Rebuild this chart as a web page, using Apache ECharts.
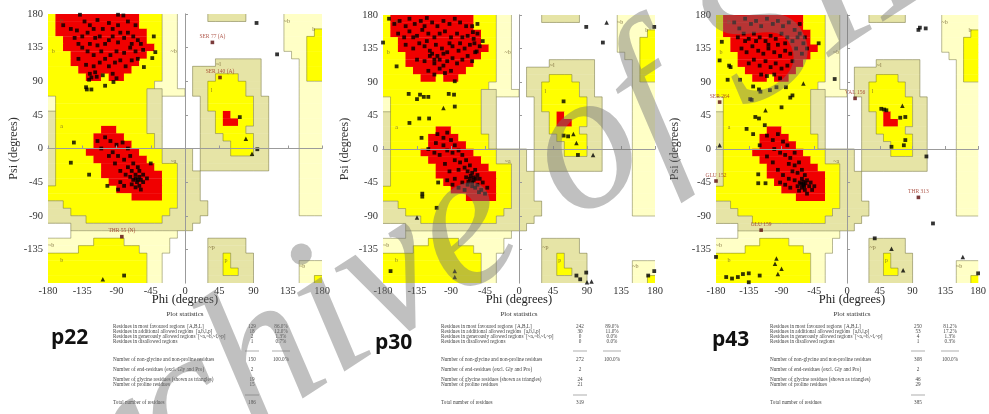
<!DOCTYPE html>
<html><head><meta charset="utf-8">
<script src="https://cdn.jsdelivr.net/npm/echarts@6.0.0/dist/echarts.min.js"></script>
<style>html,body{margin:0;padding:0;background:#fff}#c{width:989px;height:414px}</style>
</head><body><div id="c"></div>
<script>
// ---------- DATA ----------
const AXIS_TICKS = [-180,-135,-90,-45,0,45,90,135,180];
// Ramachandran region map, 10-degree cells; rows psi 180 -> -180, columns phi -180 -> 180
// R core, Y allowed, K generous, P generous (pale), . disallowed
const REGION_ROWS = [
"YRRRRRRRRRRRYYYPP....KKKKK.....PPPPP",
"YRRRRRRRRRRRYYYPP..............PPPPP",
"YRRRRRRRRRRRRYYPP..............PPPPY",
"YYRRRRRRRRRRRYYPP..............PPPYY",
"YYRRRRRRRRRRRRYPP..............PPPYY",
"YYYRRRRRRRRRRYYPP...............PPYY",
"YYYRRRRRRRRRYYYPP.....KKKKKK.....PYY",
"YYYYRRRRRRRYYYYPP..KKKKKKKKK.....PYY",
"YYYYYRRYRRYYYYYPP..KKKYYYKKK.....PYY",
"YYYYYYYYYYYYYYPPP..KKYYYYYKK.....PPP",
"YYYYYYYYYYYYYKKPPP.KKYYYYYKK.....PPP",
"PYYYYYYYYYYYYKK.....KYYYYYYKK....PPP",
"PYYYYYYYYYYYYKK.....KYYYYYYKK....PPP",
"KYYYYYYYYYYYYKK.....KKYRYYYKK....PPP",
"KYYYYYYYYYYYYKK.....KKYRRYYKK....PPP",
"KYYYYYYRRYYYYKK.....KKYYYYKKK....PPP",
"KYYYYYRRRRYYYYK.....KKKYYYYKK....PPP",
"KYYYYYRRRRRYYYK.....KKKKYYYKK....PPP",
"KYYYYRRRRRRRYYYKKKK.KKKKYYYKK....PPP",
"KYYYYYRRRRRRRYYKKKK.KKKKKKKKK....PPP",
"KYYYYYYRRRRRRRYYYKK.KKKKKKKKK....PPP",
"KYYYYYYRRRRRRRRYYKKK.............PPP",
"KYYYYYYYRRRRRRRYYKKK.............PPP",
"YYYYYYYYYRRRRRRYYKKK.............PPP",
"YYYYYYYYYYYRRRRYYKKK.............PPP",
"KKYYYYYYYYYYYYYYYKKKK............PPP",
"KKKYYYYYYYYYYYYYKKKKK............PPP",
"KKKKKYYYYYYYYYYKKKKK................",
"...KKKKKKKKKKKKKKKK.................",
"...PPPPPPPPPPPPPP...................",
"PPPPPPYYYYPPPPPP.....KKKKK..........",
"PPPPYYYYYYYYPPPP.....KKKKK..........",
"YYYYYYYYYYYYYPP......KKYKKK.........",
"YYYYYYYYYYYYYPP......KKYKKK......PPP",
"YYYYYYYYYYYYYPP......KKYYKK......PPP",
"YYYYYYYYYYYYYPP......KKKKKK......PPY"
];
const REGION_LABELS = [
 ['B',-162,170],['b',-173,130],['a',-162,29],['~b',-15,130],['~a',-15,-17],
 ['~l',44,112],['l',35,78],['~p',35,-132],['p',54,-150],['~b',-176,-130],
 ['b',-162,-150],['~b',154,-158],['~b',134,170],['b',169,159]
];

const P22_RES = [
[-160,165],[-150,160],[-142,158],[-135,150],[-128,155],[-120,160],[-118,148],[-112,150],[-105,140],[-100,145],
[-95,150],[-88,142],[-80,148],[-75,155],[-68,150],[-62,145],[-58,140],[-55,132],[-65,130],[-72,135],
[-80,128],[-90,130],[-98,125],[-105,120],[-110,130],[-120,125],[-128,130],[-135,135],[-140,120],[-130,112],
[-120,110],[-112,115],[-100,110],[-92,115],[-85,118],[-78,110],[-70,118],[-62,120],[-125,100],[-118,102],
[-108,98],[-95,100],[-132,170],[-115,172],[-100,168],[-88,165],[-75,170],[-65,165],[-140,140],[-125,140],
[-115,138],[-108,160],[-95,160],[-85,155],[-70,140],[-125,165],[-145,148],
[-41,150],[-39,129],[-43,121],[-54,109],[-88,179],[-81,178],[-138,179],[-129,79],[-123,79],[-130,82],
[-126,92],[-123,95],[-105,84],[-94,89],[-90,94],[-116,96],
[-105,15],[-98,10],[-90,5],[-82,8],[-75,0],[-95,-5],[-88,-10],[-80,-15],[-72,-10],[-68,-20],
[-62,-25],[-75,-25],[-70,-30],[-65,-35],[-60,-38],[-58,-42],[-63,-45],[-68,-42],[-55,-45],[-60,-50],
[-65,-52],[-70,-48],[-55,-35],[-50,-40],[-78,-35],[-85,-30],[-92,-20],[-100,-10],[-110,0],[-115,10],
[-60,-30],[-65,-40],[-62,-42],[-72,-38],[-58,-55],[-85,-45],[-80,-50],[-88,-55],
[-146,8],[-150,-19],[-126,-35],[-102,-50],[-45,-20],
[94,168],[121,126],[72,42],[95,-1],[-80,-170]
];
const P22_GLY = [[-108,-175],[80,13],[88,-7]];
const P22_NAMED = [['SER 77 (A)',36,142],['SER 140 (A)',46,95],['THR 55 (N)',-83,-118]];

const P30_RES = [
[-172,175],[-165,168],[-158,172],[-150,165],[-145,175],[-138,168],[-130,172],[-122,176],[-115,170],[-108,165],
[-100,172],[-92,168],[-85,175],[-78,170],[-70,165],[-160,155],[-152,150],[-145,158],[-135,152],[-128,160],
[-120,155],[-112,150],[-105,155],[-98,158],[-90,150],[-82,155],[-75,150],[-68,152],[-60,148],[-55,155],
[-150,140],[-140,135],[-132,142],[-125,138],[-118,132],[-110,140],[-102,135],[-95,130],[-88,138],[-80,132],
[-72,135],[-65,140],[-58,130],[-52,138],[-48,145],[-135,120],[-125,118],[-118,125],[-112,115],[-105,120],
[-100,112],[-95,118],[-88,122],[-82,115],[-75,120],[-68,125],[-62,118],[-120,105],[-112,100],[-105,108],
[-98,102],[-90,105],[-115,128],[-108,125],[-100,128],[-112,120],[-122,145],[-92,142],[-78,142],[-140,150],
[-125,165],[-62,165],[-55,168],
[-108,20],[-100,15],[-95,22],[-90,12],[-85,5],[-100,5],[-110,8],[-95,-2],[-88,-5],[-80,-2],
[-75,-8],[-85,-15],[-78,-18],[-70,-15],[-65,-22],[-72,-25],[-80,-28],[-68,-30],[-62,-32],[-58,-28],
[-55,-35],[-60,-38],[-65,-40],[-70,-38],[-52,-40],[-48,-45],[-55,-48],[-62,-45],[-58,-52],[-50,-55],
[-45,-60],[-68,-48],[-75,-45],[-85,-40],[-92,-30],[-98,-20],[-105,-8],[-112,-5],[-120,0],[-60,-42],
[-64,-36],[-67,-44],[-57,-40],[-62,-50],[-53,-58],[-42,-52],[-72,-55],[-80,-52],[-88,-48],[-95,-42],
[-180,143],[-162,111],[-146,74],[-135,67],[-131,73],[-126,70],[-120,70],[-93,74],[-86,73],[-85,91],
[-85,57],[-145,35],[-132,41],[-119,41],[-129,15],[-128,-60],[-128,-64],[-109,-79],[-107,-45],[-61,157],
[-59,142],[-56,131],[89,164],[111,143],[179,164],[59,64],[59,18],[65,17],[78,-8],[-170,-164],
[76,-170],[81,-175],[89,-166],[171,-170],[179,-164]
];
const P30_GLY = [[-100,55],[-135,-92],[116,170],[72,20],[76,8],[98,-8],[-85,-164],[-85,-172],[90,-179],[96,-178]];
const P30_NAMED = [];

const P43_RES = [
[-155,170],[-148,162],[-140,175],[-132,168],[-125,172],[-118,165],[-110,175],[-102,168],[-95,172],[-88,165],
[-80,170],[-72,160],[-65,168],[-150,150],[-142,155],[-135,148],[-128,155],[-120,150],[-112,145],[-105,152],
[-98,148],[-90,155],[-82,150],[-75,145],[-68,150],[-60,142],[-55,135],[-145,135],[-138,130],[-130,138],
[-122,132],[-115,128],[-108,135],[-100,130],[-92,125],[-85,132],[-78,128],[-70,135],[-62,128],[-135,115],
[-128,120],[-120,112],[-112,118],[-105,110],[-98,115],[-90,108],[-82,112],[-75,118],[-118,100],[-110,98],
[-100,100],[-92,95],[-140,145],[-95,140],[-85,142],[-108,140],[-125,145],[-65,155],[-58,150],
[-110,18],[-102,12],[-95,20],[-88,10],[-82,5],[-100,0],[-92,-5],[-85,-8],[-78,-12],[-72,-5],
[-80,-20],[-72,-22],[-66,-18],[-62,-28],[-68,-32],[-75,-30],[-58,-35],[-62,-40],[-65,-45],[-60,-48],
[-55,-42],[-52,-50],[-58,-55],[-62,-52],[-68,-50],[-50,-45],[-48,-55],[-45,-50],[-72,-42],[-80,-40],
[-88,-35],[-95,-28],[-102,-18],[-110,-10],[-60,-44],[-57,-46],[-63,-47],[-59,-50],[-55,-60],[-66,-56],
[-78,-52],[-85,-48],[-92,-45],[-120,5],
[-175,119],[-172,144],[-162,112],[-160,110],[-164,93],[-147,93],[-129,84],[-121,80],[-119,77],[-106,79],
[-97,83],[-84,83],[-75,72],[-78,69],[-133,67],[-131,66],[-90,56],[-126,43],[-121,41],[-138,27],
[-129,20],[-113,32],[-122,-34],[-122,-46],[-112,-46],[-39,142],[-17,94],[47,54],[51,53],[54,52],
[73,42],[80,43],[80,12],[78,5],[61,3],[109,-10],[118,-100],[100,163],[98,160],[108,162],
[38,-120],[180,-167],[-180,-145],[-166,-172],[-158,-174],[-150,-172],[-143,-168],[-135,-167],[-135,-179],[-120,-170]
];
const P43_GLY = [[-175,5],[76,58],[61,-134],[77,-163],[159,-145],[-97,-147],[-99,-154],[-90,-161],[-95,-168],[-112,52],[-60,88]];
const P43_NAMED = [['SER 264',-175,63],['VAL 156',11,68],['GLU 152',-180,-43],['THR 313',98,-65],['GLU 159',-118,-109]];

const PANEL_NAMES = ['p22','p30','p43'];
const STAT_LABELS = [
 'Residues in most favoured regions  [A,B,L]',
 'Residues in additional allowed regions  [a,b,l,p]',
 'Residues in generously allowed regions  [~a,~b,~l,~p]',
 'Residues in disallowed regions',
 'Number of non-glycine and non-proline residues',
 'Number of end-residues (excl. Gly and Pro)',
 'Number of glycine residues (shown as triangles)',
 'Number of proline residues',
 'Total number of residues'
];
const P22_COUNTS = [129,18,2,1,150,2,19,15,186];
const P22_PCT = ['86.0%','12.0%','1.3%','0.7%','100.0%'];
const P30_COUNTS = [242,30,0,0,272,2,24,21,319];
const P30_PCT = ['89.0%','11.0%','0.0%','0.0%','100.0%'];
const P43_COUNTS = [250,53,4,1,308,2,46,29,385];
const P43_PCT = ['81.2%','17.2%','1.3%','0.3%','100.0%'];
const WATERMARK = 'Archive of SID';

// ---------- LAYOUT / STYLE ----------
const GRIDS = [
 {left:48, top:14, width:274, height:269, nameGap:27},
 {left:383, top:15, width:272, height:268, nameGap:32},
 {left:716, top:15, width:271, height:268, nameGap:35}
];
const TEXT_POS = [
 {phiX:185, pX:51, pY:338, tX:113, nX:252, cX:281},
 {phiX:519, pX:375, pY:343, tX:441, nX:580, cX:612},
 {phiX:852, pX:712, pY:340, tX:770, nX:918, cX:950}
];
const ROW_Y = [327,332,337,342,360,370,380,385,403];
const CODES = 'RYKP';
const CODE_COLORS = ['#F00000','#FFFF00','#E6E4A6','#FFFFC6'];
const SERIF = '"Liberation Serif","DejaVu Serif",serif';

function buildRuns(){
  const runs=[];
  REGION_ROWS.forEach((row,r)=>{
    let c=0;
    while(c<36){
      const ch=row[c]; let e=c;
      while(e<36 && row[e]===ch) e++;
      if(ch!=='.') runs.push([-180+10*c,-180+10*e,180-10*r,170-10*r,CODES.indexOf(ch)]);
      c=e;
    }
  });
  return runs;
}
function buildEdges(){
  const segs=[];
  for(let r=0;r<36;r++){
    for(let c=0;c<36;c++){
      const a=REGION_ROWS[r][c];
      if(c<35){const b=REGION_ROWS[r][c+1]; if(a!==b && a!=='R' && b!=='R') segs.push([-170+10*c,180-10*r,-170+10*c,170-10*r]);}
      if(r<35){const b=REGION_ROWS[r+1][c]; if(a!==b && a!=='R' && b!=='R') segs.push([-180+10*c,170-10*r,-170+10*c,170-10*r]);}
    }
  }
  return segs;
}
const RUNS = buildRuns();
const EDGES = buildEdges();
const RES = [P22_RES,P30_RES,P43_RES];
const GLY = [P22_GLY,P30_GLY,P43_GLY];
const NAMED = [P22_NAMED,P30_NAMED,P43_NAMED];
const COUNTS = [P22_COUNTS,P30_COUNTS,P43_COUNTS];
const PCTS = [P22_PCT,P30_PCT,P43_PCT];

const chart = echarts.init(document.getElementById('c'), null, {renderer:'canvas'});
const xAxes=[], yAxes=[], series=[], graphics=[];
const tickMin = AXIS_TICKS[0], tickMax = AXIS_TICKS[AXIS_TICKS.length-1], tickStep = AXIS_TICKS[1]-AXIS_TICKS[0];
GRIDS.forEach((g,i)=>{
  const frame = {show:true, lineStyle:{color:'#9a9a9a', width:0.8}};
  xAxes.push({gridIndex:i, type:'value', min:tickMin, max:tickMax, interval:tickStep, z:10,
    axisLine:frame, axisTick:{show:true, inside:true, length:3, lineStyle:{color:'#9a9a9a'}},
    axisLabel:{fontFamily:SERIF, fontSize:10.5, color:'#333', margin:3}, splitLine:{show:false}});
  xAxes.push({gridIndex:i, type:'value', position:'top', min:tickMin, max:tickMax, interval:tickStep, z:10,
    axisLine:frame, axisTick:{show:false}, axisLabel:{show:false}, splitLine:{show:false}});
  yAxes.push({gridIndex:i, type:'value', min:tickMin, max:tickMax, interval:tickStep, z:10,
    name:'Psi (degrees)', nameLocation:'middle', nameGap:g.nameGap, nameRotate:90,
    nameTextStyle:{fontFamily:SERIF, fontSize:12, color:'#333'},
    axisLine:frame, axisTick:{show:true, inside:true, length:3, lineStyle:{color:'#9a9a9a'}},
    axisLabel:{fontFamily:SERIF, fontSize:10.5, color:'#333', margin:5, showMinLabel:false}, splitLine:{show:false}});
  yAxes.push({gridIndex:i, type:'value', position:'right', min:tickMin, max:tickMax, interval:tickStep, z:10,
    axisLine:frame, axisTick:{show:false}, axisLabel:{show:false}, splitLine:{show:false}});
  const xi=2*i, yi=2*i;
  series.push({type:'custom', xAxisIndex:xi, yAxisIndex:yi, clip:true, silent:true, z:1,
    encode:{x:[0,1], y:[2,3]}, data:RUNS,
    renderItem:(params, api)=>{
      const a=api.coord([api.value(0),api.value(2)]), b=api.coord([api.value(1),api.value(3)]);
      return {type:'rect', shape:{x:a[0]-0.2, y:a[1]-0.2, width:b[0]-a[0]+0.4, height:b[1]-a[1]+0.4},
        style:{fill:CODE_COLORS[api.value(4)]}};
    }});
  series.push({type:'custom', xAxisIndex:xi, yAxisIndex:yi, clip:true, silent:true, z:2,
    encode:{x:[0,2], y:[1,3]}, data:EDGES,
    renderItem:(params, api)=>{
      const a=api.coord([api.value(0),api.value(1)]), b=api.coord([api.value(2),api.value(3)]);
      return {type:'line', shape:{x1:a[0],y1:a[1],x2:b[0],y2:b[1]}, style:{stroke:'rgba(95,95,60,0.55)', lineWidth:0.8}};
    }});
  series.push({type:'scatter', xAxisIndex:xi, yAxisIndex:yi, silent:true, z:3, symbolSize:0,
    data:REGION_LABELS.map(d=>({name:d[0], value:[d[1],d[2]]})),
    label:{show:true, position:'inside', formatter:'{b}', fontFamily:SERIF, fontSize:6, color:'#6b5a2a'}});
  series.push({type:'scatter', xAxisIndex:xi, yAxisIndex:yi, silent:true, z:5, symbol:'rect', symbolSize:3.8,
    itemStyle:{color:'#000'}, data:RES[i],
    markLine:{silent:true, symbol:'none', label:{show:false}, lineStyle:{color:'#8a8a8a', width:0.7, type:'solid'},
      data:[{xAxis:0},{yAxis:0}], z:4}});
  series.push({type:'scatter', xAxisIndex:xi, yAxisIndex:yi, silent:true, z:5, symbol:'triangle', symbolSize:4.5,
    itemStyle:{color:'#000'}, data:GLY[i]});
  series.push({type:'scatter', xAxisIndex:xi, yAxisIndex:yi, silent:true, z:6, symbol:'rect', symbolSize:3.6,
    itemStyle:{color:'#5a0a0a'},
    data:NAMED[i].map(d=>({name:d[0], value:[d[1],d[2]]})),
    label:{show:true, position:'top', distance:1, formatter:'{b}', fontFamily:SERIF, fontSize:5.5, color:'#9a2a1a'}});

  const tp = TEXT_POS[i];
  graphics.push({type:'text', x:tp.phiX, y:300, silent:true,
    style:{text:'Phi (degrees)', fontFamily:SERIF, fontSize:12.5, fill:'#222', textAlign:'center', textVerticalAlign:'middle'}});
  graphics.push({type:'text', x:tp.phiX, y:314, silent:true,
    style:{text:'Plot statistics', fontFamily:SERIF, fontSize:7, fill:'#333', textAlign:'center', textVerticalAlign:'middle'}});
  graphics.push({type:'text', x:tp.pX, y:tp.pY, silent:true,
    style:{text:PANEL_NAMES[i], fontFamily:'"Open Sans","Liberation Sans",sans-serif', fontWeight:'bold', fontSize:21, fill:'#111', textAlign:'left', textVerticalAlign:'middle'}});
  STAT_LABELS.forEach((lab,k)=>{
    graphics.push({type:'text', x:tp.tX, y:ROW_Y[k], silent:true,
      style:{text:lab, fontFamily:SERIF, fontSize:5.2, fill:'#444', textAlign:'left', textVerticalAlign:'middle'}});
    graphics.push({type:'text', x:tp.nX, y:ROW_Y[k], silent:true,
      style:{text:String(COUNTS[i][k]), fontFamily:SERIF, fontSize:5.2, fill:'#444', textAlign:'center', textVerticalAlign:'middle'}});
    if(k<5) graphics.push({type:'text', x:tp.cX, y:ROW_Y[k], silent:true,
      style:{text:PCTS[i][k], fontFamily:SERIF, fontSize:5.2, fill:'#444', textAlign:'center', textVerticalAlign:'middle'}});
  });
  [[tp.nX-7,tp.nX+7,351],[tp.cX-9,tp.cX+9,351],[tp.nX-7,tp.nX+7,395]].forEach(s=>{
    graphics.push({type:'line', silent:true, shape:{x1:s[0],y1:s[2],x2:s[1],y2:s[2]}, style:{stroke:'#777', lineWidth:0.6}});
  });
});
graphics.push({type:'text', x:41, y:625, rotation:0.576, silent:true, z:100,
  style:{text:WATERMARK, font:'italic 200px "Liberation Serif"', fill:'rgba(115,115,115,0.45)', textAlign:'left', textVerticalAlign:'bottom'}});

chart.setOption({
  backgroundColor:'#fff', animation:false,
  grid:GRIDS.map(g=>({left:g.left, top:g.top, width:g.width, height:g.height, containLabel:false, show:false})),
  xAxis:xAxes, yAxis:yAxes, series:series, graphic:graphics
});
</script></body></html>
